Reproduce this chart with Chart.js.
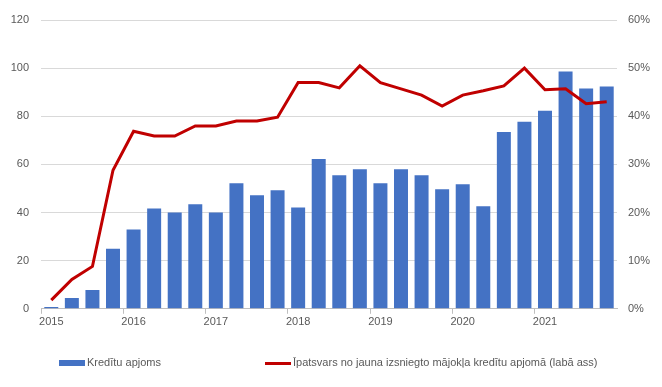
<!DOCTYPE html>
<html>
<head>
<meta charset="utf-8">
<script src="https://cdn.jsdelivr.net/npm/chart.js@4/dist/chart.umd.min.js"></script>
<style>
  html, body { margin: 0; padding: 0; background: #fff; }
  #wrap { position: relative; width: 662px; height: 387px; }
  .leg { position: absolute; top: 355px; font: 11px 'Liberation Sans', Arial, sans-serif; color: #595959; white-space: nowrap; line-height: 14px; }
  .leg i { display: inline-block; vertical-align: middle; width: 26px; margin-right: 2px; }
</style>
</head>
<body>
<div id="wrap">
  <canvas id="c" width="662" height="387"></canvas>
  <div class="leg" style="left:59px"><i style="height:6px;background:#4472c4"></i>Kredītu apjoms</div>
  <div class="leg" style="left:265px"><i style="height:3px;background:#c00000"></i>Īpatsvars no jauna izsniegto mājokļa kredītu apjomā (labā ass)</div>
</div>
<script>
// ceturkšņi 2015 Q1 .. 2021 Q4
const years = ['2015', '2016', '2017', '2018', '2019', '2020', '2021']
const quarters = years.flatMap(y => [y + ' Q1', y + ' Q2', y + ' Q3', y + ' Q4'])

// kredītu apjoms (kreisā ass)
const kreditApjoms = [
  0.7, 4.5, 7.8, 25.0,
  32.9, 41.7, 40.0, 43.4,
  40.0, 52.2, 47.2, 49.3,
  42.1, 62.2, 55.5, 58.0,
  52.2, 58.0, 55.5, 49.7,
  51.8, 42.6, 73.5, 77.7,
  82.3, 98.6, 91.5, 92.4,
]

// īpatsvars, % (labā ass)
const ipatsvars = [
  1.8, 6.1, 8.8, 28.8,
  36.9, 35.9, 35.9, 38.0,
  38.0, 39.0, 39.0, 39.8,
  47.0, 47.0, 45.9, 50.5,
  47.0, 45.7, 44.4, 42.1,
  44.4, 45.3, 46.3, 50.0,
  45.5, 45.7, 42.6, 43.0,
]

const txt = '#595959'
const font = { family: 'Liberation Sans, Arial, sans-serif', size: 11 }

new Chart(document.getElementById('c'), {
  data: {
    labels: quarters,
    datasets: [
      {
        type: 'line',
        label: 'Īpatsvars no jauna izsniegto mājokļa kredītu apjomā (labā ass)',
        data: ipatsvars,
        yAxisID: 'y1',
        borderColor: '#c00000',
        borderWidth: 3,
        pointRadius: 0,
        tension: 0,
        order: 0,
      },
      {
        type: 'bar',
        label: 'Kredītu apjoms',
        data: kreditApjoms,
        yAxisID: 'y',
        backgroundColor: '#4472c4',
        barPercentage: 0.68,
        categoryPercentage: 1,
        order: 1,
      },
    ],
  },
  options: {
    responsive: false,
    animation: false,
    layout: { padding: { top: 20, bottom: 56, left: 0, right: 0 } },
    plugins: {
      tooltip: { enabled: false },
      legend: { display: false },
    },
    scales: {
      x: {
        offset: true,
        grid: {
          offset: true,
          drawOnChartArea: false,
          drawTicks: true,
          tickLength: 5,
          color: ctx => (ctx.index % 4 === 0 ? '#bfbfbf' : 'rgba(0,0,0,0)'),
        },
        border: { color: '#bfbfbf' },
        ticks: {
          autoSkip: false,
          maxRotation: 0,
          color: txt,
          font: font,
          padding: 2,
          callback: (v, i) => (i % 4 === 0 ? years[i / 4] : ''),
        },
      },
      y: {
        position: 'left',
        min: 0,
        max: 120,
        ticks: { stepSize: 20, color: txt, font: font, padding: 12 },
        grid: { color: '#d9d9d9', drawTicks: false },
        border: { display: false },
        afterFit(s) { s.width = 41 },
      },
      y1: {
        position: 'right',
        min: 0,
        max: 60,
        ticks: { stepSize: 10, color: txt, font: font, padding: 11, callback: v => v + '%' },
        grid: { drawOnChartArea: false, drawTicks: false },
        border: { display: false },
        afterFit(s) { s.width = 45 },
      },
    },
  },
})
</script>
</body>
</html>
